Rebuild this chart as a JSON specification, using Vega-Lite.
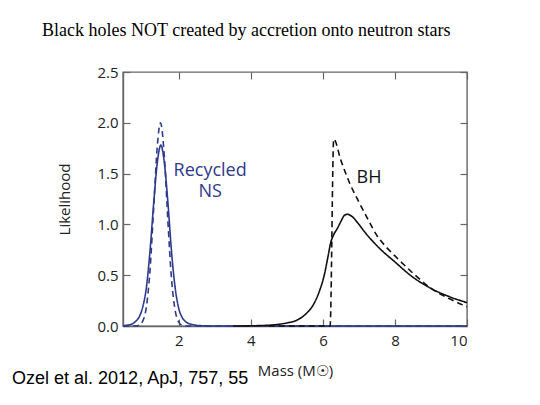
{
  "$schema": "https://vega.github.io/schema/vega-lite/v6.json",
  "autosize": {"type": "none"},
  "padding": {"left": 123, "top": 72, "right": 73, "bottom": 79},
  "width": 344,
  "height": 254,
  "background": "white",
  "title": {
    "text": "Black holes NOT created by accretion onto neutron stars",
    "font": "Liberation Serif",
    "fontSize": 18,
    "fontWeight": "normal",
    "color": "#000000",
    "anchor": "start",
    "frame": "group",
    "dx": -81,
    "dy": -21
  },
  "datasets": {
    "curves": [
      {"series": "NS fit", "mass": 0.45, "likelihood": 0.003},
      {"series": "NS fit", "mass": 0.6, "likelihood": 0.01},
      {"series": "NS fit", "mass": 0.7, "likelihood": 0.02},
      {"series": "NS fit", "mass": 0.8, "likelihood": 0.045},
      {"series": "NS fit", "mass": 0.9, "likelihood": 0.09},
      {"series": "NS fit", "mass": 1.0, "likelihood": 0.19},
      {"series": "NS fit", "mass": 1.1, "likelihood": 0.38},
      {"series": "NS fit", "mass": 1.2, "likelihood": 0.74},
      {"series": "NS fit", "mass": 1.3, "likelihood": 1.2},
      {"series": "NS fit", "mass": 1.4, "likelihood": 1.6},
      {"series": "NS fit", "mass": 1.5, "likelihood": 1.78},
      {"series": "NS fit", "mass": 1.6, "likelihood": 1.6},
      {"series": "NS fit", "mass": 1.7, "likelihood": 1.2},
      {"series": "NS fit", "mass": 1.8, "likelihood": 0.72},
      {"series": "NS fit", "mass": 1.9, "likelihood": 0.37},
      {"series": "NS fit", "mass": 2.0, "likelihood": 0.17},
      {"series": "NS fit", "mass": 2.1, "likelihood": 0.08},
      {"series": "NS fit", "mass": 2.2, "likelihood": 0.04},
      {"series": "NS fit", "mass": 2.4, "likelihood": 0.012},
      {"series": "NS fit", "mass": 2.7, "likelihood": 0.002},
      {"series": "NS fit", "mass": 3.0, "likelihood": 0},
      {"series": "NS fit", "mass": 10, "likelihood": 0},

      {"series": "NS model", "mass": 0.45, "likelihood": 0},
      {"series": "NS model", "mass": 0.8, "likelihood": 0},
      {"series": "NS model", "mass": 0.9, "likelihood": 0.01},
      {"series": "NS model", "mass": 1.0, "likelihood": 0.05},
      {"series": "NS model", "mass": 1.1, "likelihood": 0.19},
      {"series": "NS model", "mass": 1.2, "likelihood": 0.55},
      {"series": "NS model", "mass": 1.3, "likelihood": 1.15},
      {"series": "NS model", "mass": 1.4, "likelihood": 1.76},
      {"series": "NS model", "mass": 1.49, "likelihood": 2.0},
      {"series": "NS model", "mass": 1.6, "likelihood": 1.66},
      {"series": "NS model", "mass": 1.7, "likelihood": 1.01},
      {"series": "NS model", "mass": 1.8, "likelihood": 0.45},
      {"series": "NS model", "mass": 1.9, "likelihood": 0.15},
      {"series": "NS model", "mass": 2.0, "likelihood": 0.036},
      {"series": "NS model", "mass": 2.1, "likelihood": 0.006},
      {"series": "NS model", "mass": 2.2, "likelihood": 0},
      {"series": "NS model", "mass": 10, "likelihood": 0},

      {"series": "BH fit", "mass": 3.5, "likelihood": 0},
      {"series": "BH fit", "mass": 4.0, "likelihood": 0.002},
      {"series": "BH fit", "mass": 4.5, "likelihood": 0.008},
      {"series": "BH fit", "mass": 4.83, "likelihood": 0.02},
      {"series": "BH fit", "mass": 5.0, "likelihood": 0.03},
      {"series": "BH fit", "mass": 5.29, "likelihood": 0.06},
      {"series": "BH fit", "mass": 5.5, "likelihood": 0.11},
      {"series": "BH fit", "mass": 5.75, "likelihood": 0.22},
      {"series": "BH fit", "mass": 5.9, "likelihood": 0.34},
      {"series": "BH fit", "mass": 6.03, "likelihood": 0.49},
      {"series": "BH fit", "mass": 6.15, "likelihood": 0.7},
      {"series": "BH fit", "mass": 6.21, "likelihood": 0.81},
      {"series": "BH fit", "mass": 6.3, "likelihood": 0.9},
      {"series": "BH fit", "mass": 6.4, "likelihood": 0.96},
      {"series": "BH fit", "mass": 6.5, "likelihood": 1.03},
      {"series": "BH fit", "mass": 6.6, "likelihood": 1.09},
      {"series": "BH fit", "mass": 6.68, "likelihood": 1.1},
      {"series": "BH fit", "mass": 6.8, "likelihood": 1.08},
      {"series": "BH fit", "mass": 7.0, "likelihood": 1.0},
      {"series": "BH fit", "mass": 7.15, "likelihood": 0.93},
      {"series": "BH fit", "mass": 7.5, "likelihood": 0.79},
      {"series": "BH fit", "mass": 8.0, "likelihood": 0.63},
      {"series": "BH fit", "mass": 8.5, "likelihood": 0.48},
      {"series": "BH fit", "mass": 9.0, "likelihood": 0.37},
      {"series": "BH fit", "mass": 9.5, "likelihood": 0.29},
      {"series": "BH fit", "mass": 10, "likelihood": 0.23},

      {"series": "BH model", "mass": 4.5, "likelihood": 0},
      {"series": "BH model", "mass": 6.2, "likelihood": 0},
      {"series": "BH model", "mass": 6.3, "likelihood": 1.84},
      {"series": "BH model", "mass": 6.5, "likelihood": 1.63},
      {"series": "BH model", "mass": 6.75, "likelihood": 1.4},
      {"series": "BH model", "mass": 7.0, "likelihood": 1.22},
      {"series": "BH model", "mass": 7.25, "likelihood": 1.05},
      {"series": "BH model", "mass": 7.5, "likelihood": 0.89},
      {"series": "BH model", "mass": 7.75, "likelihood": 0.78},
      {"series": "BH model", "mass": 8.0, "likelihood": 0.69},
      {"series": "BH model", "mass": 8.5, "likelihood": 0.52},
      {"series": "BH model", "mass": 9.0, "likelihood": 0.37},
      {"series": "BH model", "mass": 9.5, "likelihood": 0.27},
      {"series": "BH model", "mass": 10, "likelihood": 0.19}
    ],
    "notes": [
      {"kind": "ns", "label": "Recycled\nNS", "mass": 2.87, "likelihood": 1.476},
      {"kind": "bh", "label": "BH", "mass": 7.28, "likelihood": 1.41},
      {"kind": "ref", "label": "Ozel et al. 2012, ApJ, 757, 55", "mass": -2.63, "likelihood": -0.57}
    ]
  },
  "encoding": {
    "x": {
      "field": "mass",
      "type": "quantitative",
      "scale": {"domain": [0.45, 10], "nice": false, "zero": false}
    },
    "y": {
      "field": "likelihood",
      "type": "quantitative",
      "scale": {"domain": [0, 2.5], "nice": false}
    }
  },
  "layer": [
    {
      "data": {"name": "curves"},
      "mark": {"type": "line", "strokeWidth": 1.6, "interpolate": "monotone", "clip": false},
      "encoding": {
        "x": {
          "field": "mass",
          "type": "quantitative",
          "title": "Mass (M☉)",
          "axis": {
            "orient": "bottom",
            "values": [2, 4, 6, 8, 10],
            "tickSize": -7,
            "labelPadding": 14,
            "titlePadding": 15
          }
        },
        "y": {
          "field": "likelihood",
          "type": "quantitative",
          "title": "Likelihood",
          "axis": {
            "orient": "left",
            "values": [0, 0.5, 1, 1.5, 2, 2.5],
            "format": ".1f",
            "tickSize": -7,
            "labelPadding": 12,
            "titlePadding": 24
          }
        },
        "color": {
          "field": "series",
          "type": "nominal",
          "legend": null,
          "scale": {
            "domain": ["BH model", "BH fit", "NS fit", "NS model"],
            "range": ["#111111", "#111111", "#2e3a8c", "#2e3a8c"]
          }
        },
        "strokeDash": {
          "field": "series",
          "type": "nominal",
          "legend": null,
          "scale": {
            "domain": ["BH model", "BH fit", "NS fit", "NS model"],
            "range": [[6, 4], [1, 0], [1, 0], [6, 4]]
          }
        },
        "order": {"field": "mass", "type": "quantitative"}
      }
    },
    {
      "data": {"name": "notes"},
      "transform": [{"filter": "datum.kind == 'ns'"}],
      "mark": {"type": "text", "font": "Open Sans", "fontSize": 18, "color": "#2e3a8c", "align": "center", "baseline": "alphabetic", "lineBreak": "\n", "lineHeight": 21},
      "encoding": {
        "text": {"field": "label"},
        "x": {
          "field": "mass",
          "type": "quantitative",
          "axis": {"orient": "top", "values": [2, 4, 6, 8, 10], "labels": false, "domain": false, "tickSize": -7, "title": null}
        },
        "y": {
          "field": "likelihood",
          "type": "quantitative",
          "axis": {"orient": "right", "values": [0, 0.5, 1, 1.5, 2, 2.5], "labels": false, "domain": false, "tickSize": -7, "title": null}
        }
      }
    },
    {
      "data": {"name": "notes"},
      "transform": [{"filter": "datum.kind == 'bh'"}],
      "mark": {"type": "text", "font": "Open Sans", "fontSize": 18, "color": "#111111", "align": "center", "baseline": "alphabetic"},
      "encoding": {
        "text": {"field": "label"},
        "x": {"field": "mass", "type": "quantitative", "axis": null},
        "y": {"field": "likelihood", "type": "quantitative", "axis": null}
      }
    },
    {
      "data": {"name": "notes"},
      "transform": [{"filter": "datum.kind == 'ref'"}],
      "mark": {"type": "text", "font": "Liberation Sans", "fontSize": 18, "color": "#000000", "align": "left", "baseline": "alphabetic"},
      "encoding": {
        "text": {"field": "label"},
        "x": {"field": "mass", "type": "quantitative", "axis": null},
        "y": {"field": "likelihood", "type": "quantitative", "axis": null}
      }
    }
  ],
  "resolve": {"axis": {"x": "independent", "y": "independent"}},
  "config": {
    "view": {"stroke": "#666666", "strokeWidth": 1.4},
    "axis": {
      "grid": false,
      "domainColor": "#666666",
      "domainWidth": 1.4,
      "tickColor": "#666666",
      "tickWidth": 1.2,
      "labelColor": "#222222",
      "labelFont": "Open Sans",
      "labelFontSize": 15,
      "titleFont": "Open Sans",
      "titleFontSize": 15,
      "titleFontWeight": "normal",
      "titleColor": "#222222"
    }
  }
}
